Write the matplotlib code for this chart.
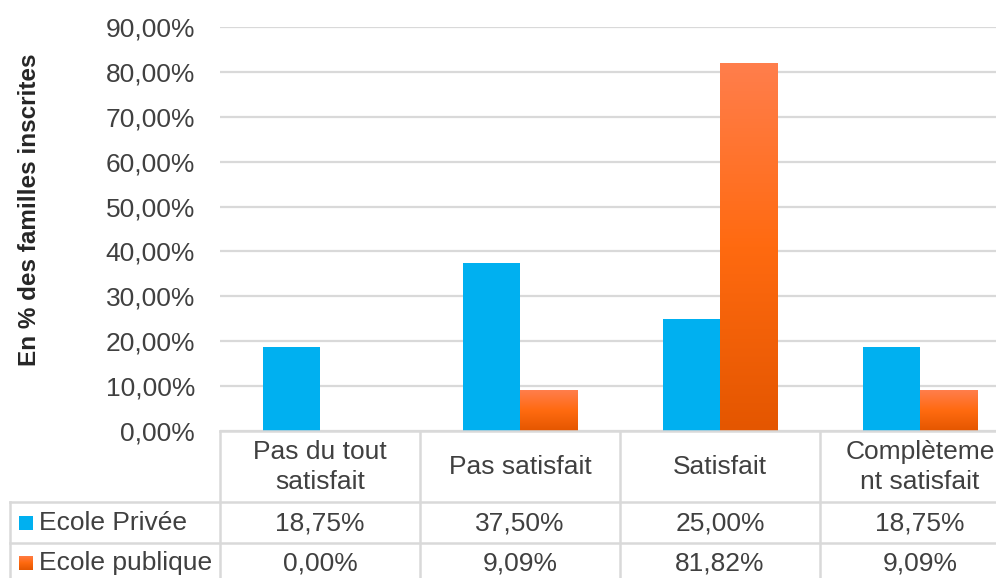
import matplotlib.pyplot as plt
import numpy as np
from matplotlib.colors import LinearSegmentedColormap
from matplotlib.lines import Line2D
from matplotlib.patches import Rectangle

categories = ['Pas du tout\nsatisfait', 'Pas satisfait', 'Satisfait', 'Complèteme\nnt satisfait']
series_names = ['Ecole Privée', 'Ecole publique']
privee = [0.1875, 0.3750, 0.2500, 0.1875]
publique = [0.0, 0.0909, 0.8182, 0.0909]
yticks = [0.0, 0.1, 0.2, 0.3, 0.4, 0.5, 0.6, 0.7, 0.8, 0.9]

BLUE = '#00b0f0'
TEXT = '#404040'
GRID = '#d9d9d9'
FS = 19
orange_cmap = LinearSegmentedColormap.from_list(
    'orange', ['#e45600', '#ff6a10', '#ff7e4c'])

plt.rcParams['font.family'] = ['Liberation Sans', 'DejaVu Sans']

W, H = 996, 578
fig = plt.figure(figsize=(W / 100, H / 100), dpi=100)


def px_x(x):
    return x / W


def px_y(y):
    return 1 - y / H


# plot area: x 220..1020 px, y 27..431 px
ax = fig.add_axes([px_x(220), px_y(431), px_x(800), px_y(27) - px_y(431)])
x = np.arange(len(categories))
bw = 0.2875
bars_p = ax.bar(x - bw / 2, privee, width=bw, color=BLUE, zorder=3)
bars_o = ax.bar(x + bw / 2, publique, width=bw, color='none', zorder=3)

# gradient fill on the orange bars
grad = np.linspace(0, 1, 256).reshape(-1, 1)
for bar in bars_o:
    h = bar.get_height()
    if h <= 0:
        continue
    x0 = bar.get_x()
    ax.imshow(grad, cmap=orange_cmap, origin='lower', aspect='auto',
              extent=[x0, x0 + bar.get_width(), 0, h], zorder=3)

ax.set_xlim(-0.5, len(categories) - 0.5)
ax.set_ylim(0, 0.9)
ax.set_yticks(yticks)
ax.set_yticklabels([f'{v * 100:.2f}%'.replace('.', ',') for v in yticks])
ax.tick_params(axis='y', length=0, pad=18, labelsize=FS, labelcolor=TEXT)
ax.set_xticks([])
ax.yaxis.grid(True, color=GRID, linewidth=1.6, zorder=0)
ax.set_axisbelow(True)
for s in ax.spines.values():
    s.set_visible(False)
ax.set_ylabel('En % des familles inscrites', fontsize=17.5, fontweight='bold',
              color='#262626')
ax.yaxis.set_label_coords((41 - 220) / 800, (431 - 210) / 404)

# data table under the axis
lc = GRID
lw = 1.8
for y in (431, 502, 543):
    x_start = 220 if y == 431 else 10
    fig.add_artist(Line2D([px_x(x_start), 1.05], [px_y(y), px_y(y)],
                          color=lc, linewidth=lw))
for xv in (220, 420, 620, 820):
    fig.add_artist(Line2D([px_x(xv), px_x(xv)], [px_y(431), 0],
                          color=lc, linewidth=lw))
fig.add_artist(Line2D([px_x(10), px_x(10)], [px_y(502), 0],
                      color=lc, linewidth=lw))

centers = [320, 520, 720, 920]
for cx, cat in zip(centers, categories):
    fig.text(px_x(cx), px_y(467), cat, ha='center', va='center',
             fontsize=FS, color=TEXT, linespacing=1.3)

rows = [(523, privee), (563, publique)]
for (ry, vals) in rows:
    for cx, v in zip(centers, vals):
        fig.text(px_x(cx), px_y(ry), f'{v * 100:.2f}%'.replace('.', ','),
                 ha='center', va='center', fontsize=FS, color=TEXT)

# row labels with legend keys
fig.text(px_x(39), px_y(523), series_names[0], ha='left', va='center',
         fontsize=FS, color=TEXT)
fig.text(px_x(39), px_y(563), series_names[1], ha='left', va='center',
         fontsize=FS, color=TEXT)
fig.add_artist(Rectangle((px_x(19), px_y(530)), px_x(14), px_y(516) - px_y(530),
                         facecolor=BLUE, edgecolor='none'))
kax = fig.add_axes([px_x(19), px_y(570), px_x(14), px_y(556) - px_y(570)])
kax.imshow(grad, cmap=orange_cmap, origin='lower', aspect='auto')
kax.axis('off')

fig.savefig('out.png', dpi=100)
